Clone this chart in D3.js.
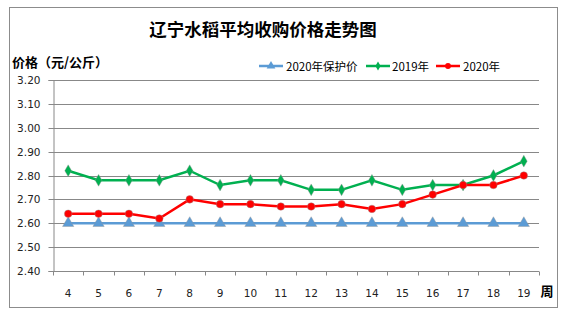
<!DOCTYPE html>
<html>
<head>
<meta charset="utf-8">
<script src="https://cdn.jsdelivr.net/npm/d3@7"></script>
<style>
  html, body { margin: 0; padding: 0; background: #fff; }
  svg { display: block; }
</style>
</head>
<body>
<svg id="chart" width="565" height="322"></svg>
<script>
// Week numbers along the category axis
const weeks = ["4","5","6","7","8","9","10","11","12","13","14","15","16","17","18","19"];
// Average purchase price, yuan per kg
const protectPrice2020 = [2.60,2.60,2.60,2.60,2.60,2.60,2.60,2.60,2.60,2.60,2.60,2.60,2.60,2.60,2.60,2.60];
const price2019 = [2.82,2.78,2.78,2.78,2.82,2.76,2.78,2.78,2.74,2.74,2.78,2.74,2.76,2.76,2.80,2.86];
const price2020 = [2.64,2.64,2.64,2.62,2.70,2.68,2.68,2.67,2.67,2.68,2.66,2.68,2.72,2.76,2.76,2.80];
const yTicks = [2.40,2.50,2.60,2.70,2.80,2.90,3.00,3.10,3.20];
const seriesNames = ["2020年保护价","2019年","2020年"];

const svg = d3.select("#chart");
const plot = { left: 53, right: 539, top: 80, bottom: 271 };

// Outer frame
svg.append("rect")
  .attr("x", 9.5).attr("y", 7.5).attr("width", 548).attr("height", 300)
  .attr("fill", "#fff").attr("stroke", "#8c8c8c").attr("stroke-width", 1);

// Title
svg.append("text")
  .attr("x", 263).attr("y", 36)
  .attr("text-anchor", "middle")
  .attr("font-family", "'Noto Sans CJK SC', sans-serif")
  .attr("font-weight", "bold").attr("font-size", 17.5)
  .attr("fill", "#000")
  .text("辽宁水稻平均收购价格走势图");

// Y axis title
svg.append("text")
  .attr("x", 12).attr("y", 67)
  .attr("font-family", "'Noto Sans CJK SC', sans-serif")
  .attr("font-weight", "bold").attr("font-size", 13)
  .attr("fill", "#000")
  .text("价格（元/公斤）");

const x = d3.scaleBand().domain(weeks).range([plot.left, plot.right]).padding(0);
const y = d3.scaleLinear().domain([2.40, 3.20]).range([plot.bottom, plot.top]);

// Horizontal gridlines
svg.append("g")
  .selectAll("line")
  .data(yTicks.slice(1))
  .join("line")
  .attr("x1", plot.left).attr("x2", plot.right)
  .attr("y1", d => Math.round(y(d)) + 0.5).attr("y2", d => Math.round(y(d)) + 0.5)
  .attr("stroke", "#888").attr("stroke-width", 1);

// Y axis
const yAxis = svg.append("g")
  .attr("transform", `translate(${plot.left + 0.5},0)`)
  .call(d3.axisLeft(y).tickValues(yTicks).tickFormat(d3.format(".2f")).tickSize(5).tickPadding(8));
yAxis.select(".domain").attr("stroke", "#888");
yAxis.selectAll(".tick line").attr("stroke", "#888");
yAxis.selectAll(".tick").attr("transform", d => `translate(0,${Math.round(y(d)) + 0.5})`);
yAxis.selectAll("text")
  .attr("font-family", "'DejaVu Sans', sans-serif").attr("font-size", 10.5).attr("fill", "#222");

// X axis with tick marks between categories
const xAxisG = svg.append("g").attr("transform", `translate(0,${plot.bottom + 0.5})`);
xAxisG.append("line")
  .attr("x1", plot.left).attr("x2", plot.right)
  .attr("stroke", "#888");
const boundaries = weeks.map(w => x(w)).concat([plot.right]);
xAxisG.selectAll("line.tk")
  .data(boundaries)
  .join("line").attr("class", "tk")
  .attr("x1", d => Math.round(d) + 0.5).attr("x2", d => Math.round(d) + 0.5)
  .attr("y1", 0).attr("y2", 4)
  .attr("stroke", "#888");
xAxisG.selectAll("text")
  .data(weeks)
  .join("text")
  .attr("x", d => x(d) + x.bandwidth() / 2)
  .attr("y", 25)
  .attr("text-anchor", "middle")
  .attr("font-family", "'DejaVu Sans', sans-serif").attr("font-size", 10.5)
  .attr("fill", "#222")
  .text(d => d);
svg.append("text")
  .attr("x", 547).attr("y", 296)
  .attr("text-anchor", "middle")
  .attr("font-family", "'Noto Sans CJK SC', sans-serif")
  .attr("font-weight", "bold").attr("font-size", 13)
  .attr("fill", "#000")
  .text("周");

const cx = (d, i) => x(weeks[i]) + x.bandwidth() / 2;
const line = d3.line().x((d, i) => cx(d, i)).y(d => y(d));

const series = [
  { name: seriesNames[0], values: protectPrice2020, color: "#5b9bd5", symbol: d3.symbolTriangle, size: 55 },
  { name: seriesNames[1], values: price2019, color: "#00b050", symbol: d3.symbolDiamond, size: 40 },
  { name: seriesNames[2], values: price2020, color: "#ff0000", symbol: d3.symbolCircle, size: 45 }
];

series.forEach(s => {
  const g = svg.append("g");
  g.append("path")
    .datum(s.values)
    .attr("fill", "none").attr("stroke", s.color).attr("stroke-width", 2.5)
    .attr("d", line);
  g.selectAll("path.m")
    .data(s.values)
    .join("path").attr("class", "m")
    .attr("transform", (d, i) => `translate(${cx(d, i)},${y(d)})`)
    .attr("d", d3.symbol().type(s.symbol).size(s.size))
    .attr("fill", s.color)
    .attr("stroke", "rgba(150,150,150,0.5)").attr("stroke-width", 0.8);
});

// Legend
const legendItems = [
  { x: 259, textX: 286 },
  { x: 366, textX: 392 },
  { x: 436, textX: 463 }
];
const legend = svg.append("g");
series.forEach((s, i) => {
  const li = legendItems[i];
  const ly = 66;
  legend.append("line")
    .attr("x1", li.x).attr("x2", li.x + 24).attr("y1", ly).attr("y2", ly)
    .attr("stroke", s.color).attr("stroke-width", 2.5);
  legend.append("path")
    .attr("transform", `translate(${li.x + 12},${ly})`)
    .attr("d", d3.symbol().type(s.symbol).size(s.size * 0.6))
    .attr("fill", s.color);
  legend.append("text")
    .attr("x", li.textX).attr("y", ly + 4.5)
    .attr("font-family", "'Noto Sans CJK SC', sans-serif").attr("font-size", 11.5)
    .attr("fill", "#000")
    .text(s.name);
});
</script>
</body>
</html>
